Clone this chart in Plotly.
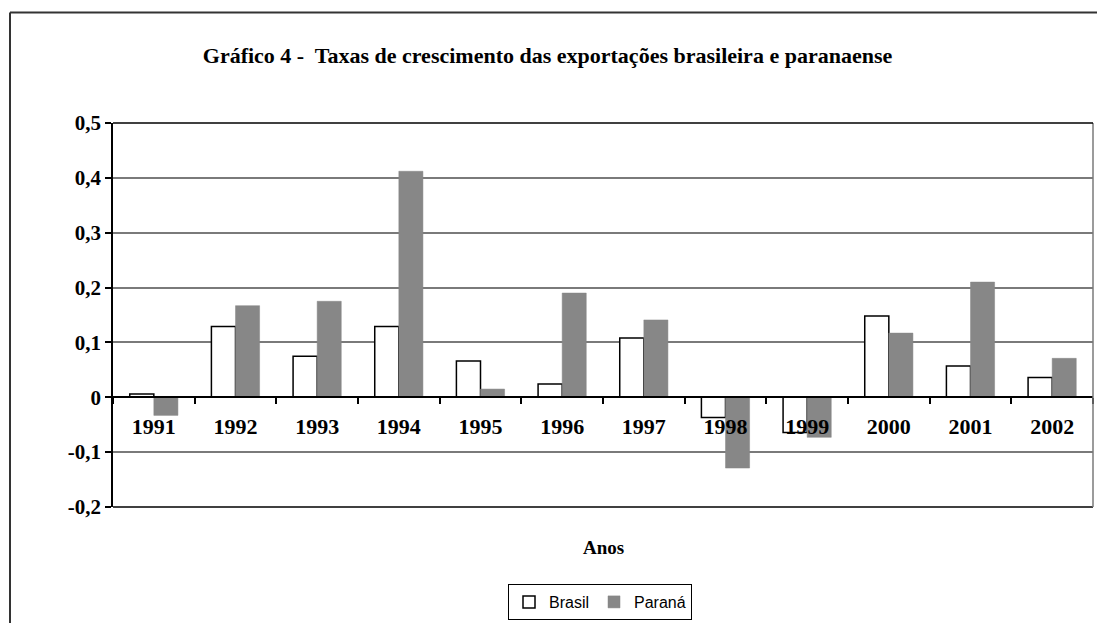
import plotly.graph_objects as go

anos = ["1991", "1992", "1993", "1994", "1995", "1996", "1997", "1998", "1999", "2000", "2001", "2002"]
brasil = [0.006, 0.129, 0.075, 0.129, 0.066, 0.024, 0.108, -0.037, -0.064, 0.148, 0.057, 0.036]
parana = [-0.033, 0.167, 0.175, 0.412, 0.015, 0.190, 0.141, -0.129, -0.073, 0.117, 0.210, 0.071]
y_tickvals = [0.5, 0.4, 0.3, 0.2, 0.1, 0, -0.1, -0.2]
y_ticktext = ["0,5", "0,4", "0,3", "0,2", "0,1", "0", "-0,1", "-0,2"]

W, H = 1097, 623
L, R, T, B = 113, 1093, 122.7, 507.3
pw, ph = R - L, B - T

fig = go.Figure()
fig.add_trace(go.Bar(x=anos, y=brasil, name="Brasil",
                     marker=dict(color="white", line=dict(color="black", width=1.5))))
fig.add_trace(go.Bar(x=anos, y=parana, name="Paraná",
                     marker=dict(color="#878787", line=dict(color="#878787", width=0.5))))

serif = "Liberation Serif, Times New Roman, serif"

fig.update_layout(
    width=W, height=H,
    margin=dict(l=L, r=W - R, t=T, b=H - B),
    paper_bgcolor="white", plot_bgcolor="white",
    barmode="group", bargap=0.41, bargroupgap=0,
    title=dict(text="<b>Gráfico 4 -  Taxas de crescimento das exportações brasileira e paranaense</b>",
               x=547.5 / W, xref="container", xanchor="center",
               y=1 - 55 / H, yref="container", yanchor="middle",
               font=dict(family=serif, size=22, color="black")),
    xaxis=dict(type="category", anchor="free", position=0.2 / 0.7,
               showline=True, linecolor="black", linewidth=1.5,
               ticks="outside", tickson="boundaries", ticklen=6, tickcolor="black", tickwidth=1.5,
               showgrid=False, ticklabelstandoff=10,
               tickfont=dict(family=serif, size=22, color="black", weight="bold")),
    yaxis=dict(range=[-0.2, 0.5], tickvals=y_tickvals, ticktext=y_ticktext,
               showline=True, linecolor="black", linewidth=1.5,
               ticks="outside", ticklen=6, tickcolor="black", tickwidth=1.5,
               showgrid=True, gridcolor="#7a7a7a", gridwidth=1.5, zeroline=False,
               tickfont=dict(family=serif, size=21, color="black", weight="bold")),
    legend=dict(orientation="h", xref="container", yref="container",
                x=600 / W, xanchor="center", y=1 - 602 / H, yanchor="middle",
                bordercolor="black", borderwidth=1, bgcolor="white",
                font=dict(family="Liberation Sans, Arial, sans-serif", size=16, color="black"),
                itemwidth=30, tracegroupgap=0),
    showlegend=True,
)

fig.add_annotation(text="<b>Anos</b>", xref="paper", yref="paper", x=0.5, y=(B - 548) / ph,
                   xanchor="center", yanchor="middle", showarrow=False,
                   font=dict(family=serif, size=19, color="black"))

# plot area border (bottom, right, top)
fig.add_shape(type="line", xref="paper", yref="paper", x0=0, x1=1, y0=0, y1=0,
              line=dict(color="black", width=1.5))
fig.add_shape(type="line", xref="paper", yref="paper", x0=1, x1=1, y0=0, y1=1,
              line=dict(color="#7a7a7a", width=1.5))
fig.add_shape(type="line", xref="paper", yref="paper", x0=0, x1=1, y0=1, y1=1,
              line=dict(color="black", width=1.5))

# outer chart frame (left and top)
fx = (10 - L) / pw
fy = (B - 12) / ph
fbot = (B - 640) / ph
fright = (1097 - L) / pw
fig.add_shape(type="line", xref="paper", yref="paper", x0=fx, x1=fx, y0=fbot, y1=fy,
              line=dict(color="#333333", width=2))
fig.add_shape(type="line", xref="paper", yref="paper", x0=fx, x1=fright, y0=fy, y1=fy,
              line=dict(color="#333333", width=2))

fig.write_html("out.html", config={"displayModeBar": False},
               post_script="document.body.style.margin='0';document.body.style.overflow='hidden';")
